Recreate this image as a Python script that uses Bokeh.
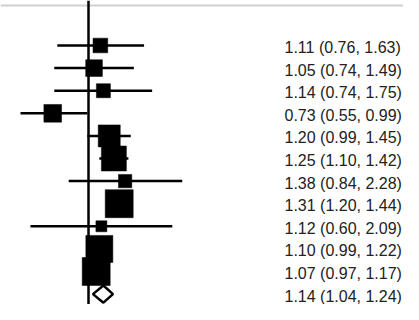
import numpy as np
from bokeh.plotting import figure
from bokeh.models import Range1d, Span, ColumnDataSource
from bokeh.core.properties import value
from bokeh.embed import file_html
from bokeh.resources import INLINE

# ---- data ----
estimates = [1.11, 1.05, 1.14, 0.73, 1.20, 1.25, 1.38, 1.31, 1.12, 1.10, 1.07]
lowers    = [0.76, 0.74, 0.74, 0.55, 0.99, 1.10, 0.84, 1.20, 0.60, 0.99, 0.97]
uppers    = [1.63, 1.49, 1.75, 0.99, 1.45, 1.42, 2.28, 1.44, 2.09, 1.22, 1.17]
weights   = [4.5, 5.8, 4.1, 6.5, 10.1, 13.0, 3.7, 16.3, 2.5, 15.2, 16.3]
pooled_est, pooled_lo, pooled_hi = 1.14, 1.04, 1.24

n = len(estimates)
rows = list(range(1, n + 1))
pooled_row = n + 1

labels = [f"{e:.2f} ({l:.2f}, {u:.2f})" for e, l, u in zip(estimates, lowers, uppers)]
labels.append(f"{pooled_est:.2f} ({pooled_lo:.2f}, {pooled_hi:.2f})")

# ---- figure ----
p = figure(width=403, height=304, x_axis_type="log",
           x_range=Range1d(0.4612, 15.96), y_range=Range1d(12.46, -0.991),
           x_axis_location=None, y_axis_location=None,
           toolbar_location=None, output_backend="svg", min_border=0)
p.grid.visible = False
p.outline_line_color = None
p.background_fill_color = "white"

# top grey rule
p.add_layout(Span(location=-0.77, dimension="width", line_color="#cfcfcf", line_width=2))
# null line
p.add_layout(Span(location=1.0, dimension="height", line_color="black", line_width=2.5))

src = ColumnDataSource(dict(est=estimates, lo=lowers, hi=uppers, row=rows,
                            size=[6.93 * np.sqrt(w) for w in weights]))
p.segment(x0="lo", x1="hi", y0="row", y1="row", source=src, line_color="black", line_width=2.5)
p.scatter(x="est", y="row", size="size", marker="square", source=src,
          fill_color="black", line_color="black", line_width=0.5)

# pooled diamond
h = 0.38
p.patch(x=[pooled_lo, pooled_est, pooled_hi, pooled_est],
        y=[pooled_row, pooled_row - h, pooled_row, pooled_row + h],
        fill_color="white", line_color="black", line_width=2.5)

# labels
tsrc = ColumnDataSource(dict(x=[5.606] * len(labels), y=rows + [pooled_row], t=labels))
p.text(x="x", y="y", text="t", source=tsrc, text_font=value("Liberation Sans"),
       text_font_size="16px", text_color="#222222", text_align="left",
       text_baseline="middle", y_offset=2)

open("out.html", "w").write(file_html(p, INLINE))
